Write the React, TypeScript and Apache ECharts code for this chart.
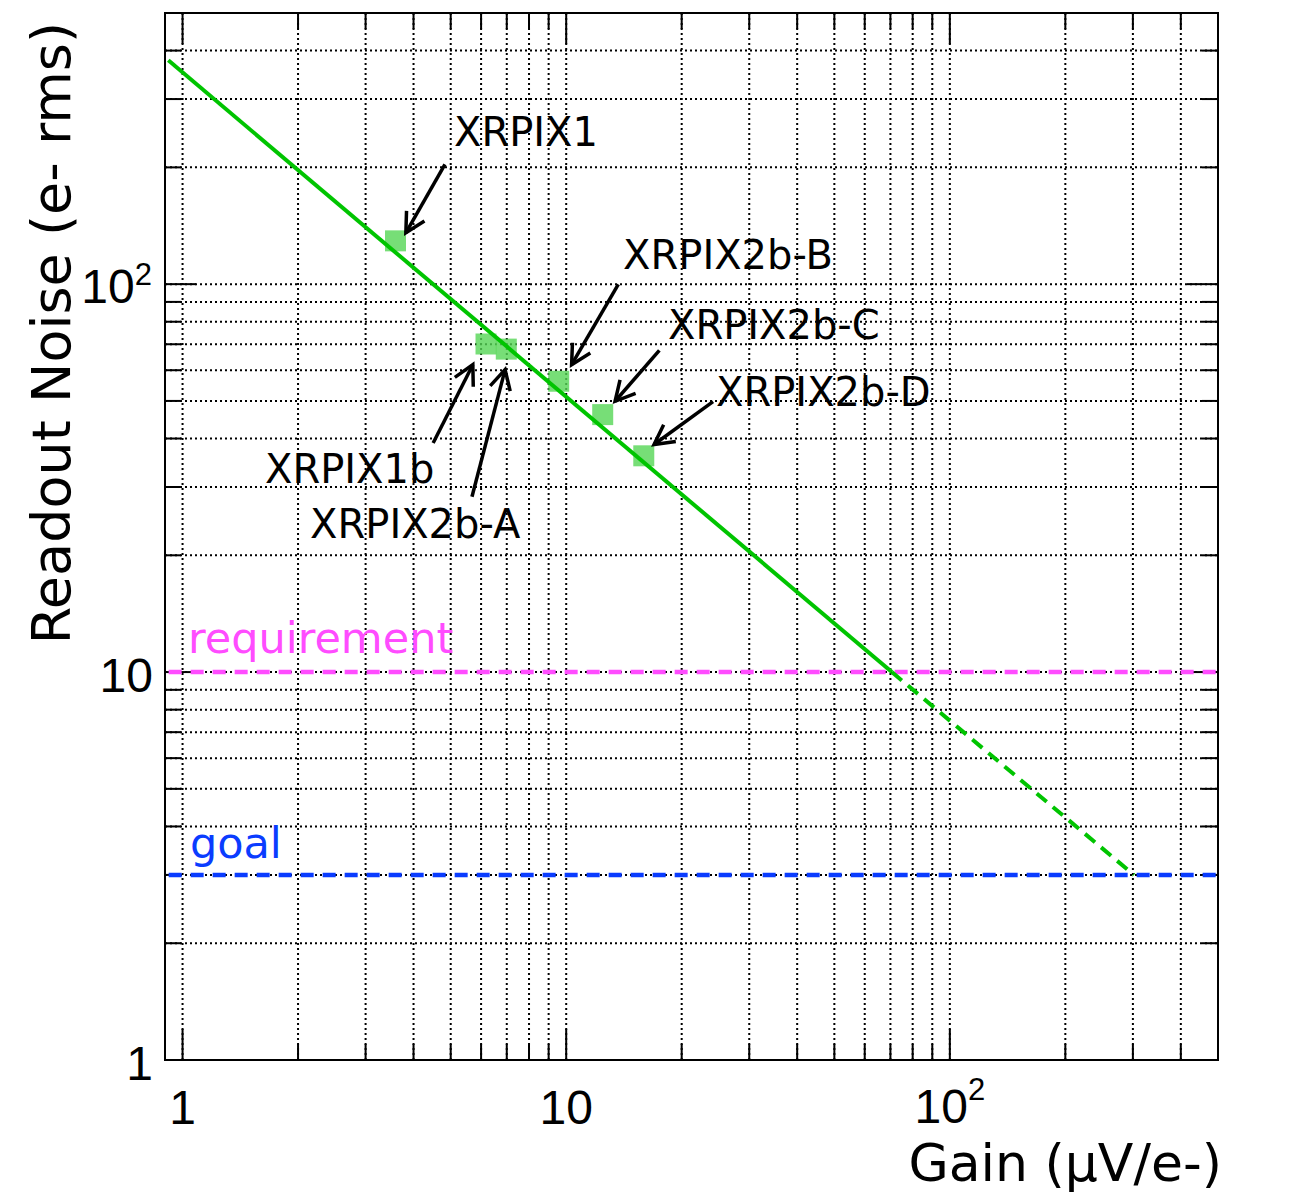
import React, { useEffect, useRef } from 'react';
import * as echarts from 'echarts';

// ---- axis ranges ----
const X_MIN = 0.9;
const X_MAX = 500;
const Y_MIN = 1;
const Y_MAX = 500;

// ---- ticks ----
const xMajorTicks = [1, 10, 100];
const xMinorTicks = [2, 3, 4, 5, 6, 7, 8, 9, 20, 30, 40, 50, 60, 70, 80, 90, 200, 300, 400, 500];
const yMajorTicks = [1, 10, 100];
const yMinorTicks = [2, 3, 4, 5, 6, 7, 8, 9, 20, 30, 40, 50, 60, 70, 80, 90, 200, 300, 400, 500];
const xTickLabels = ['1', '10', '10^2'];
const yTickLabels = ['1', '10', '10^2'];

// ---- measured chips ----
const chipNames = ['XRPIX1', 'XRPIX1b', 'XRPIX2b-A', 'XRPIX2b-B', 'XRPIX2b-C', 'XRPIX2b-D'];
const chipGain = [3.59, 6.18, 6.98, 9.56, 12.45, 15.93];
const chipNoise = [129.3, 70.1, 68.0, 56.2, 46.1, 36.1];

// ---- fit line ----
const fitSolidGain = [0.918, 70.6];
const fitSolidNoise = [377.5, 10];
const fitDashedGain = [70.6, 302];
const fitDashedNoise = [10, 3];

// ---- reference levels ----
const refLineGain = [0.92, 500];
const requirementNoise = 10;
const goalNoise = 3;
const refLabelText = ['requirement', 'goal'];
const refLabelGain = [1.033, 1.045];
const refLabelNoise = [12.26, 3.63];

// ---- annotation anchors (data coordinates) ----
const labelGain = [5.1, 1.64, 2.15, 14.07, 18.42, 24.58];
const labelNoise = [246, 33.4, 24.1, 119.2, 78.7, 52.8];
const arrowFromGain = [4.83, 4.5, 5.68, 13.67, 17.49, 24.14];
const arrowFromNoise = [203.5, 38.96, 28.3, 99.8, 67.5, 49.8];
const arrowToGain = [3.82, 5.71, 6.93, 10.33, 13.41, 16.94];
const arrowToNoise = [135.6, 62.0, 60.2, 62.0, 49.9, 38.6];

const TICK_FONT = 'Liberation Sans';
const TEXT_FONT = 'DejaVu Sans';
const MAGENTA = '#ff4cff';
const BLUE = '#0a3cff';
const GREEN_LINE = '#00c400';
const GREEN_MARK = '#55d655';

const MAJOR_LEN = 31;
const MINOR_LEN = 16;
const GRID_DASH = [2, 3];

function renderXTicks(params: any, api: any) {
  const cs = params.coordSys;
  const x = api.coord([api.value(0), Y_MIN])[0];
  const major = api.value(2) === 1;
  const top = cs.y;
  const bottom = cs.y + cs.height;
  const len = major ? MAJOR_LEN : MINOR_LEN;
  return {
    type: 'group',
    children: [
      { type: 'line', shape: { x1: x, y1: top, x2: x, y2: bottom }, style: { stroke: '#000', lineWidth: 2, lineDash: GRID_DASH } },
      { type: 'line', shape: { x1: x, y1: bottom, x2: x, y2: bottom - len }, style: { stroke: '#000', lineWidth: 2 } },
      { type: 'line', shape: { x1: x, y1: top, x2: x, y2: top + len }, style: { stroke: '#000', lineWidth: 2 } },
    ],
  };
}

function renderYTicks(params: any, api: any) {
  const cs = params.coordSys;
  const y = api.coord([X_MIN, api.value(1)])[1];
  const major = api.value(2) === 1;
  const left = cs.x;
  const right = cs.x + cs.width;
  const len = major ? MAJOR_LEN : MINOR_LEN;
  return {
    type: 'group',
    children: [
      { type: 'line', shape: { x1: left, y1: y, x2: right, y2: y }, style: { stroke: '#000', lineWidth: 2, lineDash: GRID_DASH } },
      { type: 'line', shape: { x1: left, y1: y, x2: left + len, y2: y }, style: { stroke: '#000', lineWidth: 2 } },
      { type: 'line', shape: { x1: right, y1: y, x2: right - len, y2: y }, style: { stroke: '#000', lineWidth: 2 } },
    ],
  };
}

const BASE_FS = 48;
const SUP_FS = 31;
const DIGIT_W = 0.556;

function tickText(text: string, x: number, y: number, align: string, fs: number) {
  return {
    type: 'text',
    x,
    y,
    style: { text, fontSize: fs, fontFamily: TICK_FONT, fill: '#000', align, verticalAlign: 'middle' },
  };
}

function renderXLabels(params: any, api: any) {
  const cs = params.coordSys;
  const idx = api.value(2);
  const x = api.coord([api.value(0), Y_MIN])[0];
  const yb = cs.y + cs.height;
  const [base, exp] = xTickLabels[idx].split('^');
  if (!exp) return tickText(base, x, yb + 47, 'center', BASE_FS);
  const bw = base.length * DIGIT_W * BASE_FS;
  const ew = exp.length * DIGIT_W * SUP_FS;
  const start = x - (bw + ew) / 2;
  return {
    type: 'group',
    children: [tickText(base, start, yb + 46, 'left', BASE_FS), tickText(exp, start + bw, yb + 29, 'left', SUP_FS)],
  };
}

function renderYLabels(params: any, api: any) {
  const cs = params.coordSys;
  const idx = api.value(2);
  const y = api.coord([X_MIN, api.value(1)])[1];
  const xr = cs.x - 12;
  const [base, exp] = yTickLabels[idx].split('^');
  if (!exp) return tickText(base, xr, y + 3.5, 'right', BASE_FS);
  const ew = exp.length * DIGIT_W * SUP_FS;
  return {
    type: 'group',
    children: [tickText(exp, xr - 1, y - 10, 'right', SUP_FS), tickText(base, xr - 1 - ew, y + 2, 'right', BASE_FS)],
  };
}

function renderArrows(params: any, api: any) {
  const p1 = api.coord([api.value(0), api.value(1)]);
  const p2 = api.coord([api.value(2), api.value(3)]);
  const ang = Math.atan2(p1[1] - p2[1], p1[0] - p2[0]);
  const L = 22;
  const spread = (28 * Math.PI) / 180;
  const a1 = [p2[0] + L * Math.cos(ang + spread), p2[1] + L * Math.sin(ang + spread)];
  const a2 = [p2[0] + L * Math.cos(ang - spread), p2[1] + L * Math.sin(ang - spread)];
  return {
    type: 'group',
    children: [
      { type: 'line', shape: { x1: p1[0], y1: p1[1], x2: p2[0], y2: p2[1] }, style: { stroke: '#000', lineWidth: 3.5 } },
      { type: 'polyline', shape: { points: [a1, p2, a2] }, style: { stroke: '#000', lineWidth: 3.5, fill: null, lineJoin: 'miter' } },
    ],
  };
}

function renderChipLabels(params: any, api: any) {
  const idx = api.value(2);
  const p = api.coord([api.value(0), api.value(1)]);
  return {
    type: 'text',
    x: p[0],
    y: p[1],
    style: { text: chipNames[idx], fontSize: 40, fontFamily: TEXT_FONT, fill: '#000', align: 'left', verticalAlign: 'middle' },
  };
}

function renderRefLabels(params: any, api: any) {
  const idx = api.value(2);
  const p = api.coord([api.value(0), api.value(1)]);
  return {
    type: 'text',
    x: p[0],
    y: p[1],
    style: {
      text: refLabelText[idx],
      fontSize: 43,
      fontFamily: TEXT_FONT,
      fill: idx === 0 ? MAGENTA : BLUE,
      align: 'left',
      verticalAlign: 'middle',
    },
  };
}

function buildOption() {
  const xTickData = [
    ...xMajorTicks.map((v) => [v, Y_MIN, 1]),
    ...xMinorTicks.map((v) => [v, Y_MIN, 0]),
  ];
  const yTickData = [
    ...yMajorTicks.map((v) => [X_MIN, v, 1]),
    ...yMinorTicks.map((v) => [X_MIN, v, 0]),
  ];
  const xLabelData = xMajorTicks.map((v, i) => [v, Y_MIN, i]);
  const yLabelData = yMajorTicks.map((v, i) => [X_MIN, v, i]);
  const arrowData = chipNames.map((_, i) => [arrowFromGain[i], arrowFromNoise[i], arrowToGain[i], arrowToNoise[i]]);
  const chipLabelData = chipNames.map((_, i) => [labelGain[i], labelNoise[i], i]);
  const refLabelData = refLabelText.map((_, i) => [refLabelGain[i], refLabelNoise[i], i]);

  return {
    animation: false,
    backgroundColor: '#fff',
    grid: {
      left: 165,
      right: 72,
      top: 13,
      bottom: 132,
      show: true,
      borderColor: '#000',
      borderWidth: 2,
      backgroundColor: 'transparent',
    },
    xAxis: {
      type: 'log',
      logBase: 10,
      min: X_MIN,
      max: X_MAX,
      axisLine: { show: false },
      axisTick: { show: false },
      axisLabel: { show: false },
      splitLine: { show: false },
    },
    yAxis: {
      type: 'log',
      logBase: 10,
      min: Y_MIN,
      max: Y_MAX,
      axisLine: { show: false },
      axisTick: { show: false },
      axisLabel: { show: false },
      splitLine: { show: false },
    },
    graphic: [
      {
        type: 'text',
        x: 51,
        y: 22,
        rotation: Math.PI / 2,
        style: {
          text: 'Readout Noise (e- rms)',
          fontSize: 54,
          fontFamily: TEXT_FONT,
          fill: '#000',
          align: 'right',
          verticalAlign: 'middle',
        },
      },
      {
        type: 'text',
        x: 1222,
        y: 1163,
        style: {
          text: 'Gain (μV/e-)',
          fontSize: 52,
          fontFamily: TEXT_FONT,
          fill: '#000',
          align: 'right',
          verticalAlign: 'middle',
        },
      },
    ],
    series: [
      { type: 'custom', name: 'xgrid', silent: true, z: 1, data: xTickData, encode: { x: 0, y: 1 }, renderItem: renderXTicks },
      { type: 'custom', name: 'ygrid', silent: true, z: 1, data: yTickData, encode: { x: 0, y: 1 }, renderItem: renderYTicks },
      { type: 'custom', name: 'xlabels', silent: true, z: 1, data: xLabelData, encode: { x: 0, y: 1 }, renderItem: renderXLabels },
      { type: 'custom', name: 'ylabels', silent: true, z: 1, data: yLabelData, encode: { x: 0, y: 1 }, renderItem: renderYLabels },
      {
        type: 'line',
        name: 'requirement',
        silent: true,
        z: 3,
        showSymbol: false,
        data: refLineGain.map((g) => [g, requirementNoise]),
        lineStyle: { color: MAGENTA, width: 4.5, type: [13, 9] },
      },
      {
        type: 'line',
        name: 'goal',
        silent: true,
        z: 3,
        showSymbol: false,
        data: refLineGain.map((g) => [g, goalNoise]),
        lineStyle: { color: BLUE, width: 4.5, type: [13, 9] },
      },
      {
        type: 'scatter',
        name: 'chips',
        silent: true,
        z: 2,
        symbol: 'rect',
        symbolSize: 21,
        itemStyle: { color: GREEN_MARK },
        data: chipGain.map((g, i) => [g, chipNoise[i]]),
      },
      {
        type: 'line',
        name: 'fit',
        silent: true,
        z: 4,
        showSymbol: false,
        data: fitSolidGain.map((g, i) => [g, fitSolidNoise[i]]),
        lineStyle: { color: GREEN_LINE, width: 4 },
      },
      {
        type: 'line',
        name: 'fitExtrapolated',
        silent: true,
        z: 4,
        showSymbol: false,
        data: fitDashedGain.map((g, i) => [g, fitDashedNoise[i]]),
        lineStyle: { color: GREEN_LINE, width: 4, type: [13, 8] },
      },
      {
        type: 'custom',
        name: 'arrows',
        silent: true,
        z: 5,
        data: arrowData,
        encode: { x: [0, 2], y: [1, 3] },
        renderItem: renderArrows,
      },
      { type: 'custom', name: 'chipLabels', silent: true, z: 5, data: chipLabelData, encode: { x: 0, y: 1 }, renderItem: renderChipLabels },
      { type: 'custom', name: 'refLabels', silent: true, z: 5, data: refLabelData, encode: { x: 0, y: 1 }, renderItem: renderRefLabels },
    ],
  };
}

export default function App() {
  const ref = useRef<HTMLDivElement>(null);
  useEffect(() => {
    if (!ref.current) return;
    const chart = echarts.init(ref.current, null, { renderer: 'svg' });
    chart.setOption(buildOption() as any);
    return () => chart.dispose();
  }, []);
  return (
    <div
      ref={ref}
      style={{ position: 'fixed', left: 0, top: 0, width: 1290, height: 1192, background: '#fff' }}
    />
  );
}
